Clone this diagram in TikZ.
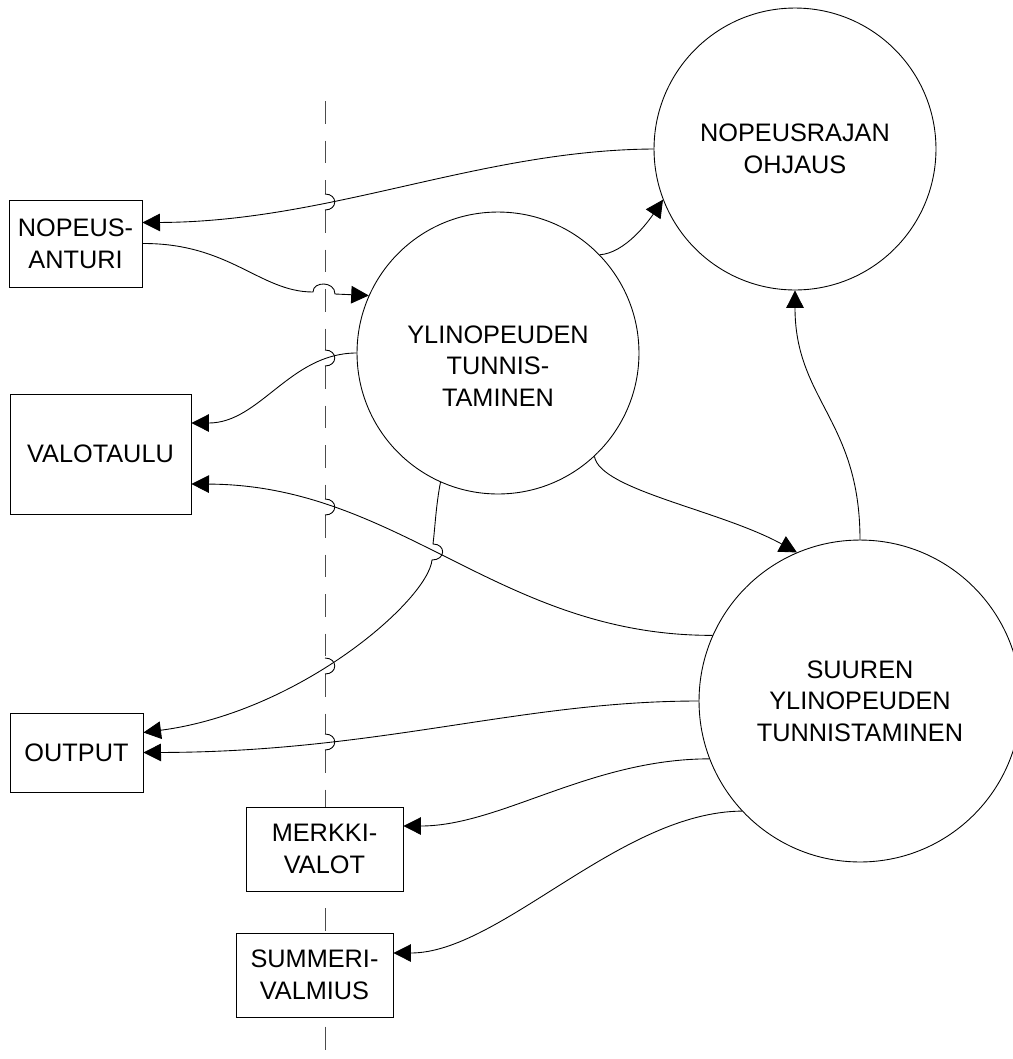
\documentclass[tikz,border=0pt]{standalone}
\usepackage{fontspec}
\setmainfont{Liberation Sans}
\usepackage{tikz}
\usetikzlibrary{arrows.meta,calc}

\tikzset{
  proc/.style={circle, draw, fill=white, inner sep=0pt, align=center, font=\fontsize{14.4}{18}\selectfont},
  ent/.style={rectangle, draw, fill=white, inner sep=0pt, align=center, font=\fontsize{14.4}{18}\selectfont},
  flow/.style={-{Triangle[length=10pt,width=10pt]}},
  divider/.style={black!70, dash pattern=on 13pt off 9.5pt},
}

\begin{document}
\begin{tikzpicture}[x=0.02cm, y=-0.02cm, line width=0.5pt]
\useasboundingbox (0,0) rectangle (1012,1059);

\draw[divider] (325,101) -- (325,194) (325,210) -- (325,350) (325,366) -- (325,499) (325,515) -- (325,658) (325,674) -- (325,734) (325,750) -- (325,1059);
\draw (325,194) .. controls (338,194) and (338,210) .. (325,210);
\draw (325,350) .. controls (338,350) and (338,366) .. (325,366);
\draw (325,499) .. controls (338,499) and (338,515) .. (325,515);
\draw (325,658) .. controls (338,658) and (338,674) .. (325,674);
\draw (325,734) .. controls (338,734) and (338,750) .. (325,750);

\node[proc, minimum size=5.64cm] (ohjaus) at (795,149) {NOPEUSRAJAN\\OHJAUS};
\node[proc, minimum size=5.64cm] (yli) at (498,353) {};
\node[align=center, font=\fontsize{14.4}{18}\selectfont] (ylitxt) at (498,366) {YLINOPEUDEN\\TUNNIS-\\TAMINEN};
\node[proc, minimum size=6.44cm] (suuri) at (860,701) {SUUREN\\YLINOPEUDEN\\TUNNISTAMINEN};

\node[ent, minimum width=2.66cm, minimum height=1.74cm] (anturi) at (75.5,243.5) {NOPEUS-\\ANTURI};
\node[ent, minimum width=3.62cm, minimum height=2.4cm] (valo) at (100.5,454) {VALOTAULU};
\node[ent, minimum width=2.66cm, minimum height=1.58cm] (outp) at (76.5,752.5) {OUTPUT};
\node[ent, minimum width=3.14cm, minimum height=1.68cm] (merkki) at (324.5,849) {MERKKI-\\VALOT};
\node[ent, minimum width=3.14cm, minimum height=1.68cm] (summeri) at (314.5,975) {SUMMERI-\\VALMIUS};

\draw[flow] (ohjaus.west) .. controls (480,150) and (330,222) .. ($(anturi.east)+(0,-21)$);
\draw[flow] (anturi.east) .. controls (230,243) and (260,292) .. (313,292) .. controls (313,281) and (335,281) .. (335,294) -- (yli.156);
\draw[flow] (yli.44) .. controls (625,253) and (648,222) .. (ohjaus.201);
\draw[flow] (yli.west) .. controls (290,353) and (260,423) .. ($(valo.east)+(0,-31)$);
\draw[flow] (suuri.156) .. controls (500,636) and (400,485) .. ($(valo.east)+(0,30)$);
\draw[flow] (yli.246) .. controls (436,505) and (435,528) .. (433,544) .. controls (446,544) and (446,560) .. (432,560) .. controls (428,600) and (300,712) .. ($(outp.east)+(0,-20)$);
\draw[flow] (suuri.west) .. controls (520,701) and (380,752) .. (outp.east);
\draw[flow] (suuri.201) .. controls (590,759) and (500,826) .. ($(merkki.east)+(0,-23)$);
\draw[flow] (suuri.223) .. controls (620,812) and (500,953) .. ($(summeri.east)+(0,-22)$);
\draw[flow] (yli.313) .. controls (600,490) and (720,510) .. (suuri.113);
\draw[flow] (suuri.north) .. controls (860,420) and (795,400) .. (ohjaus.south);

\end{tikzpicture}
\end{document}
